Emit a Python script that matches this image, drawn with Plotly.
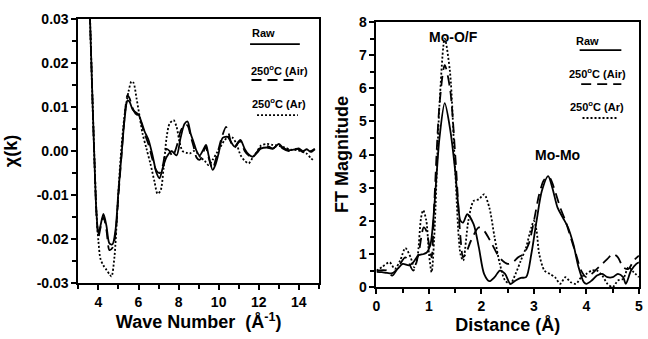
import plotly.graph_objects as go

# ---------------- Left panel: chi(k) ----------------
k_raw = [3.5, 3.6, 3.7, 3.8, 3.9, 4.0, 4.1, 4.25, 4.4, 4.55, 4.7, 4.85, 5.0, 5.15, 5.3, 5.45, 5.55, 5.7, 5.85, 6.0,
         6.15, 6.3, 6.5, 6.7, 6.9, 7.05, 7.2, 7.4, 7.65, 7.9, 8.1, 8.3, 8.45, 8.6, 8.75, 8.9, 9.05, 9.2, 9.37,
         9.5, 9.7, 9.85, 10.0, 10.2, 10.45, 10.6, 10.8, 11.0, 11.1, 11.3, 11.5, 11.7, 11.9, 12.1, 12.4, 12.7, 13.0,
         13.2, 13.5, 13.8, 14.0, 14.2, 14.4, 14.6, 14.8]
chi_raw = [0.042, 0.027, 0.012, -0.002, -0.014, -0.0188, -0.017, -0.0143, -0.017, -0.021, -0.0212, -0.018, -0.009,
           -0.001, 0.007, 0.0115, 0.0112, 0.0095, 0.0088, 0.0083, 0.0065, 0.0045, 0.0025, -0.001, -0.005, -0.0062,
           -0.004, -0.0014, 0.0, -0.001, 0.003, 0.0062, 0.0067, 0.004, 0.002, 0.0, -0.001, 0.0, 0.0014, -0.001,
           -0.0043, -0.003, -0.0005, 0.003, 0.0032, 0.0022, 0.001, 0.0022, 0.0025, 0.0005, -0.0008, -0.0013, -0.0005,
           0.0005, 0.0008, 0.0005, 0.0016, 0.0008, 0.0002, 0.0004, 0.0006, 0.0, 0.0004, -0.0002, 0.0004]

k_air = [3.5, 3.6, 3.7, 3.8, 3.9, 4.0, 4.1, 4.25, 4.4, 4.55, 4.7, 4.85, 5.0, 5.15, 5.3, 5.45, 5.55, 5.7, 5.85, 6.0,
         6.15, 6.3, 6.5, 6.7, 6.9, 7.05, 7.2, 7.4, 7.55, 7.7, 7.9, 8.1, 8.3, 8.45, 8.6, 8.75, 8.9, 9.05, 9.2, 9.35,
         9.5, 9.7, 9.85, 10.0, 10.15, 10.37, 10.5, 10.65, 10.8, 11.0, 11.1, 11.3, 11.5, 11.7, 11.9, 12.1, 12.4, 12.7,
         13.0, 13.2, 13.5, 13.8, 14.0, 14.2, 14.4, 14.6, 14.8]
chi_air = [0.042, 0.027, 0.012, -0.002, -0.014, -0.0195, -0.0175, -0.015, -0.018, -0.0225, -0.022, -0.019, -0.010,
           -0.001, 0.0075, 0.0127, 0.012, 0.0098, 0.0085, 0.008, 0.0062, 0.004, 0.0015, -0.002, -0.0045, -0.005,
           -0.0035, 0.0005, 0.0, -0.0012, 0.001, 0.0045, 0.006, 0.0058, 0.0035, 0.001, -0.0015, -0.002, -0.0008,
           0.001, -0.0015, -0.004, -0.002, 0.0005, 0.003, 0.0055, 0.004, 0.0015, 0.0008, 0.002, 0.0022, 0.0, -0.001,
           -0.0012, -0.0003, 0.0008, 0.0012, 0.0006, 0.0014, 0.0006, 0.0, 0.0005, 0.0004, -0.0002, 0.0003, 0.0, 0.0005]

k_ar = [3.5, 3.6, 3.7, 3.8, 3.9, 4.0, 4.1, 4.25, 4.4, 4.55, 4.65, 4.8, 4.95, 5.1, 5.3, 5.5, 5.65, 5.75, 5.9, 6.05,
        6.2, 6.4, 6.6, 6.8, 6.95, 7.1, 7.25, 7.4, 7.55, 7.75, 7.9, 8.05, 8.2, 8.4, 8.55, 8.75, 8.9, 9.1, 9.3, 9.5,
        9.7, 9.9, 10.1, 10.3, 10.5, 10.7, 10.9, 11.1, 11.3, 11.5, 11.7, 11.9, 12.1, 12.4, 12.7, 13.0, 13.3, 13.6,
        13.9, 14.2, 14.4, 14.6, 14.75]
chi_ar = [0.042, 0.027, 0.012, -0.002, -0.014, -0.0205, -0.0245, -0.026, -0.027, -0.028, -0.0285, -0.024, -0.013,
          -0.002, 0.008, 0.0135, 0.0158, 0.0155, 0.012, 0.008, 0.004, 0.0005, -0.003, -0.007, -0.0097, -0.009,
          -0.004, 0.003, 0.0062, 0.007, 0.0055, 0.002, 0.0, -0.0004, -0.0006, 0.0, -0.0003, -0.0015, -0.0022,
          -0.0032, -0.002, -0.0005, 0.001, 0.0025, 0.0032, 0.003, 0.0015, -0.001, -0.0022, -0.0028, -0.0015,
          -0.0003, 0.0012, 0.0016, 0.0014, 0.0012, 0.0008, 0.0003, 0.0002, -0.0002, -0.0006, -0.0016, -0.0022]

# ---------------- Right panel: FT magnitude ----------------
r_raw = [0.0, 0.1, 0.2, 0.3, 0.4, 0.5, 0.62, 0.7, 0.8, 0.9, 0.96, 1.03, 1.08, 1.15, 1.2, 1.3, 1.4, 1.5, 1.55, 1.6,
         1.65, 1.73, 1.85, 1.95, 2.05, 2.15, 2.25, 2.35, 2.45, 2.55, 2.65, 2.75, 2.85, 2.95, 3.05, 3.15, 3.27, 3.35,
         3.45, 3.55, 3.65, 3.75, 3.85, 3.95, 4.0, 4.1, 4.2, 4.3, 4.4, 4.5, 4.6, 4.7, 4.75, 4.85, 4.95, 5.0]
ft_raw = [0.46, 0.45, 0.43, 0.42, 0.55, 0.7, 0.66, 0.75, 0.96, 1.0, 1.05, 1.3, 2.0, 3.5, 4.5, 5.55, 4.8, 3.5, 2.6,
          2.0, 1.95, 2.2, 1.9, 1.2, 0.4, 0.18, 0.3, 0.5, 0.4, 0.1, 0.2, 0.28, 0.3, 1.0, 2.0, 2.9, 3.35, 3.0, 2.4,
          2.1, 1.8, 1.3, 0.6, 0.15, 0.1, 0.2, 0.35, 0.4, 0.3, 0.3, 0.4, 0.3, 0.1, 0.5, 0.7, 0.75]

r_air = [0.0, 0.2, 0.3, 0.45, 0.55, 0.7, 0.8, 0.9, 0.95, 1.0, 1.05, 1.1, 1.2, 1.3, 1.4, 1.5, 1.6, 1.65, 1.7, 1.8,
         1.95, 2.05, 2.2, 2.3, 2.4, 2.5, 2.6, 2.7, 2.8, 2.9, 3.0, 3.1, 3.2, 3.3, 3.4, 3.5, 3.6, 3.7, 3.8, 3.9, 4.0,
         4.1, 4.2, 4.3, 4.4, 4.5, 4.6, 4.7, 4.8, 4.9, 5.0]
ft_air = [0.5, 0.5, 0.35, 0.7, 0.9, 0.5, 1.0, 1.8, 1.7, 1.3, 0.9, 2.5, 5.5, 6.7, 6.0, 4.0, 1.5, 0.9, 1.0, 1.4,
          1.8, 1.7, 1.3, 1.0, 0.8, 0.7, 0.75, 0.9, 1.0, 1.3, 2.0, 2.8, 3.25, 3.3, 2.9, 2.4, 2.0, 1.5, 1.0, 0.5,
          0.3, 0.4, 0.55, 0.7, 0.85, 1.0, 0.9, 0.6, 0.55, 0.8, 0.95]

r_ar = [0.0, 0.1, 0.25, 0.35, 0.45, 0.55, 0.65, 0.72, 0.78, 0.85, 0.89, 0.95, 1.0, 1.05, 1.1, 1.2, 1.3, 1.4, 1.5,
        1.6, 1.65, 1.75, 1.85, 1.95, 2.05, 2.15, 2.25, 2.35, 2.45, 2.55, 2.65, 2.75, 2.85, 2.95, 3.0, 3.05, 3.1,
        3.2, 3.3, 3.4, 3.5, 3.6, 3.7, 3.8, 3.9, 4.0, 4.1, 4.2, 4.3, 4.4, 4.5, 4.6, 4.7, 4.8, 4.9, 5.0]
ft_ar = [0.5, 0.6, 0.75, 0.55, 0.8, 1.18, 0.9, 0.6, 0.9, 2.1, 2.32, 2.0, 1.0, 0.45, 1.5, 5.5, 7.5, 6.5, 3.5,
         1.0, 0.8, 2.0, 2.6, 2.65, 2.8, 2.4, 1.5, 0.7, 0.2, 0.1, 0.4, 0.8, 1.2, 1.8, 2.0, 1.7, 1.0, 0.5, 0.4, 0.3,
         0.1, 0.3, 0.15, 0.1, 0.3, 0.4, 0.5, 0.5, 0.35, 0.1, 0.0, 0.2, 0.25, 0.6, 0.45, 0.3]

legend_names = ["Raw", "250<sup>o</sup>C (Air)", "250<sup>o</sup>C (Ar)"]
dashes = ["solid", "10px,6px", "2px,2px"]

FONT = "Liberation Sans, Arial, sans-serif"
fig = go.Figure()

series_left = [(k_raw, chi_raw), (k_air, chi_air), (k_ar, chi_ar)]
series_right = [(r_raw, ft_raw), (r_air, ft_air), (r_ar, ft_ar)]
for (x, y), d in zip(series_left, dashes):
    fig.add_trace(go.Scatter(x=x, y=y, mode="lines", line=dict(color="black", width=1.8, dash=d, shape="spline",
                                                               smoothing=0.8),
                             xaxis="x", yaxis="y", showlegend=False))
for (x, y), d in zip(series_right, dashes):
    fig.add_trace(go.Scatter(x=x, y=y, mode="lines", line=dict(color="black", width=1.8, dash=d, shape="spline",
                                                               smoothing=0.8),
                             xaxis="x2", yaxis="y2", showlegend=False))

tickfont = dict(family=FONT, size=14, color="black", weight="bold")
titlefont = dict(family=FONT, size=18, color="black", weight="bold")
axcommon = dict(showgrid=False, zeroline=False, showline=True, linecolor="black", linewidth=2, mirror=True,
                ticks="outside", ticklen=5, tickwidth=1.5, tickcolor="black", tickfont=tickfont, automargin=False,
                ticklabeloverflow="allow")

fig.update_layout(
    template="none",
    width=648, height=339, margin=dict(l=0, r=0, t=0, b=0, pad=0),
    paper_bgcolor="white", plot_bgcolor="white",
    xaxis=dict(domain=[0.121, 0.492], range=[3, 15], tickvals=[4, 6, 8, 10, 12, 14],
               minor=dict(tickvals=[3, 5, 7, 9, 11, 13, 15], ticks="outside", ticklen=4, tickcolor="black"),
               title=dict(text="Wave Number  (Å<sup>-1</sup>)", font=titlefont, standoff=5), anchor="y", **axcommon),
    yaxis=dict(domain=[0.165, 0.944], range=[-0.03, 0.03], tickvals=[-0.03, -0.02, -0.01, 0.0, 0.01, 0.02, 0.03],
               ticktext=["-0.03", "-0.02", "-0.01", "0.00", "0.01", "0.02", "0.03"],
               minor=dict(dtick=0.005, ticks="outside", ticklen=4, tickcolor="black"),
               title=dict(text="χ(k)", font=titlefont, standoff=14), anchor="x", **axcommon),
    xaxis2=dict(domain=[0.581, 0.986], range=[0, 5], dtick=1,
                minor=dict(dtick=0.5, ticks="outside", ticklen=4, tickcolor="black"),
                title=dict(text="Distance (Å)", font=titlefont, standoff=5), anchor="y2", **axcommon),
    yaxis2=dict(domain=[0.153, 0.935], range=[0, 8], dtick=1,
                minor=dict(dtick=0.5, ticks="outside", ticklen=4, tickcolor="black"),
                title=dict(text="FT Magnitude", font=titlefont, standoff=6), anchor="x2", **axcommon),
)

# Peak labels
labfont = dict(family=FONT, size=14, color="black", weight="bold")
fig.add_annotation(x=1.46, y=7.56, xref="x2", yref="y2", text="Mo-O/F", showarrow=False, font=labfont)
fig.add_annotation(x=3.44, y=3.98, xref="x2", yref="y2", text="Mo-Mo", showarrow=False, font=labfont)

# In-plot legends (text above sample line)
legfont = dict(family=FONT, size=11, color="black", weight="bold")
leg_left = dict(xa="x domain", ya="y domain", tx=[0.768, 0.838, 0.834], ty=[0.947, 0.807, 0.682],
                lx=[(0.714, 0.921), (0.72, 0.92), (0.743, 0.913)], ly=[0.905, 0.769, 0.636])
leg_right = dict(xa="x2 domain", ya="y2 domain", tx=[0.804, 0.841, 0.841], ty=[0.928, 0.808, 0.683],
                 lx=[(0.774, 0.933), (0.78, 0.933), (0.785, 0.922)], ly=[0.894, 0.766, 0.638])
for leg in (leg_left, leg_right):
    for i, (name, d) in enumerate(zip(legend_names, dashes)):
        fig.add_annotation(x=leg["tx"][i], y=leg["ty"][i], xref=leg["xa"], yref=leg["ya"], text=name,
                           showarrow=False, font=legfont, xanchor="center", yanchor="middle")
        fig.add_shape(type="line", xref=leg["xa"], yref=leg["ya"], x0=leg["lx"][i][0], x1=leg["lx"][i][1],
                      y0=leg["ly"][i], y1=leg["ly"][i], line=dict(color="black", width=1.8, dash=d))

fig.write_html("out.html", config={"displayModeBar": False},
               post_script="document.body.style.margin='0px';")
